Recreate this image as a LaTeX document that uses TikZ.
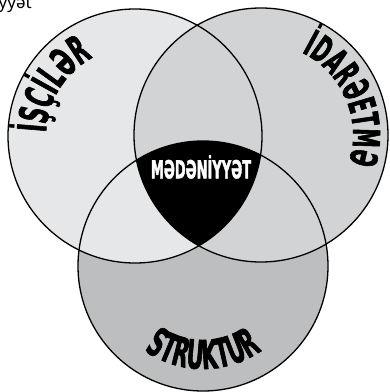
\documentclass[tikz,border=0pt]{standalone}
\usepackage{fontspec}
\usetikzlibrary{decorations.text}
\newfontfamily\vennfont{DejaVu Sans}[FakeStretch=0.52, BoldFeatures={FakeBold=1.5}]
\newfontfamily\smallfont{Noto Sans}
\newcommand\vennlabel[1]{\vennfont\bfseries\fontsize{#1}{#1}\selectfont}
\definecolor{iscigray}{HTML}{E6E7E8}
\definecolor{idaregray}{HTML}{D1D3D4}
\definecolor{struktgray}{HTML}{BCBEC0}

\begin{document}
\begin{tikzpicture}[x=1pt, y=1pt, ring/.style={draw=black, line width=1.3pt}]
                    \useasboundingbox (0,0) rectangle (390,392);
                    \coordinate (isci) at (135,256);
                    \coordinate (idare) at (261,257);
                    \coordinate (strukt) at (203,126);
                    % three circles, right one on top
                    \fill[struktgray] (strukt) circle[radius=125];
                    \fill[iscigray] (isci) circle[radius=127];
                    \fill[idaregray] (idare) circle[radius=127];
                    \begin{scope}
                        \clip (isci) circle[radius=127];
                        \clip (idare) circle[radius=127];
                        \fill[black] (strukt) circle[radius=125];
                    \end{scope}
                    \draw[ring] (strukt) circle[radius=125];
                    \draw[ring] (isci) circle[radius=127];
                    \draw[ring] (idare) circle[radius=127];
                    % curved labels
                    \path[decorate, decoration={text along path, text align=center,
                        text={|\vennlabel{40}|İŞÇİLƏR}}]
                        (isci) ++(195:89) arc[start angle=195, end angle=101, radius=89];
                    \path[decorate, decoration={text along path, text align=center,
                        text={|\vennlabel{37}|İDARƏETMƏ}}]
                        (idare) ++(88:92) arc[start angle=88, end angle=-42, radius=92];
                    \path[decorate, decoration={text along path, text align=center,
                        text={|\vennlabel{40}|STRUKTUR}}]
                        (strukt) ++(215:103) arc[start angle=215, end angle=325, radius=103];
                    \node (medeniyyet) [text=white, font=\vennlabel{25}] at (201,225) {MƏDƏNİYYƏT};
                    \node (basliq) [anchor=base east, inner sep=0pt, font=\smallfont\fontsize{17}{17}\selectfont] at (32,383) {Mədəniyyət};
            \end{tikzpicture}
\end{document}
